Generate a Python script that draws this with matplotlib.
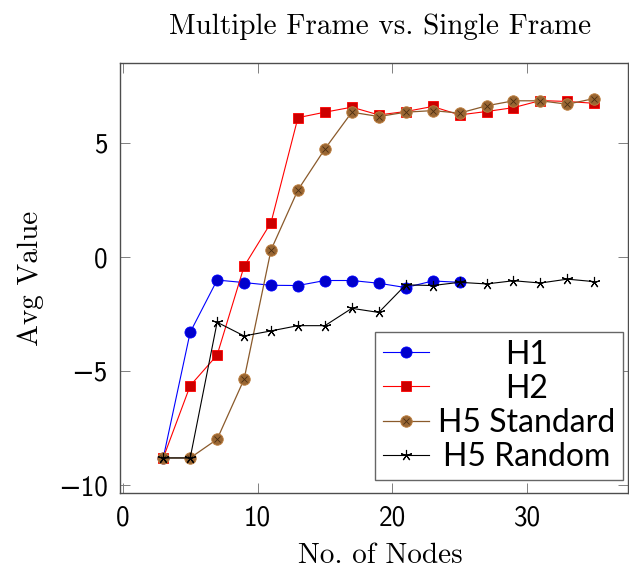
import matplotlib
matplotlib.use("Agg")
import matplotlib.pyplot as plt
from matplotlib.lines import Line2D

# ---- data ----
x_h1 = [3, 5, 7, 9, 11, 13, 15, 17, 19, 21, 23, 25]
h1 = [-8.8, -3.29, -1.0, -1.11, -1.23, -1.24, -1.02, -1.02, -1.14, -1.33, -1.04, -1.10]

x_all = [3, 5, 7, 9, 11, 13, 15, 17, 19, 21, 23, 25, 27, 29, 31, 33, 35]
h2 = [-8.8, -5.63, -4.29, -0.40, 1.52, 6.12, 6.36, 6.58, 6.24, 6.39, 6.61, 6.24,
      6.39, 6.56, 6.87, 6.83, 6.75]
h5_standard = [-8.8, -8.8, -7.98, -5.35, 0.32, 2.95, 4.75, 6.36, 6.17, 6.36, 6.43,
               6.32, 6.64, 6.86, 6.86, 6.71, 6.96]
h5_random = [-8.8, -8.8, -2.85, -3.45, -3.23, -3.0, -3.0, -2.24, -2.42, -1.21, -1.24,
             -1.10, -1.17, -1.03, -1.13, -0.96, -1.07]

labels = ["H1", "H2", "H5 Standard", "H5 Random"]
xticks = [0, 10, 20, 30]
yticks = [-10, -5, 0, 5]

title = "Multiple Frame vs. Single Frame"
xlabel = "No. of Nodes"
ylabel = "Avg Value"

# ---- style ----
serif = ["cmr10", "DejaVu Serif"]
sans = ["cmss10", "DejaVu Sans"]
plt.rcParams["axes.formatter.use_mathtext"] = True

fig = plt.figure(figsize=(6.29, 5.71), dpi=100)
ax = fig.add_axes([120 / 629, 1 - 493.3 / 571, 508 / 629, 430.6 / 571])

ms = 8.0
l1, = ax.plot(x_h1, h1, color="#0000ff", lw=0.8, marker="o", ms=ms,
              mfc="#0000cc", mec="#0000ff", mew=0.6, label=labels[0])
l2, = ax.plot(x_all, h2, color="#ff0000", lw=0.8, marker="s", ms=ms - 0.5,
              mfc="#cc0000", mec="#ff0000", mew=0.6, label=labels[1])
l3, = ax.plot(x_all, h5_standard, color="#8a5a2b", lw=0.9, marker="o", ms=ms + 0.3,
              mfc="#996633", mec="#bf8040", mew=0.6, label=labels[2])
l3x, = ax.plot(x_all, h5_standard, ls="none", marker="x", ms=ms * 0.55,
               mec="#4a2e12", mew=0.6)
l4, = ax.plot(x_all, h5_random, color="black", lw=0.8, marker=(5, 2, 0), ms=ms,
              mec="black", mew=0.8, label=labels[3])

ax.set_xlim(-0.21, 37.5)
ax.set_ylim(-10.35, 8.53)
ax.set_xticks(xticks)
ax.set_yticks(yticks)
ax.set_xticklabels([str(v) for v in xticks])
ax.set_yticklabels([("\u2212" + str(-v)) if v < 0 else str(v) for v in yticks])

spine_col = "#4d4d4d"
for s in ax.spines.values():
    s.set_color(spine_col)
    s.set_linewidth(1.0)
ax.tick_params(direction="in", length=7.5, width=0.7, color="#808080",
               top=True, right=True, labelsize=19.5, pad=9)
for t in ax.get_xticklabels() + ax.get_yticklabels():
    t.set_family(sans)

ax.set_title(title, family=serif, fontsize=21, pad=21, x=0.512)
ax.set_xlabel(xlabel, family=serif, fontsize=21)
ax.xaxis.set_label_coords(0.512, -0.114)
ax.set_ylabel(ylabel, family=serif, fontsize=21, labelpad=10)

leg = ax.legend([l1, l2, (l3, l3x), l4], labels, loc="lower right",
                bbox_to_anchor=(0.991, 0.031), fancybox=False, framealpha=1,
                edgecolor="#666666", handlelength=1.44,
                handletextpad=0.3, borderpad=0.25, labelspacing=0.13,
                borderaxespad=0.0, prop={"family": "Lato", "size": 23})
leg.get_frame().set_linewidth(1.0)

# centre legend texts in their column (pgfplots style)
fig.canvas.draw()
r = fig.canvas.get_renderer()
texts = leg.get_texts()
widths = [t.get_window_extent(r).width for t in texts]
W = max(widths)
for t, w in zip(texts, widths):
    t.set_x((W - w) / 2)

fig.savefig("out.png", dpi=100)
